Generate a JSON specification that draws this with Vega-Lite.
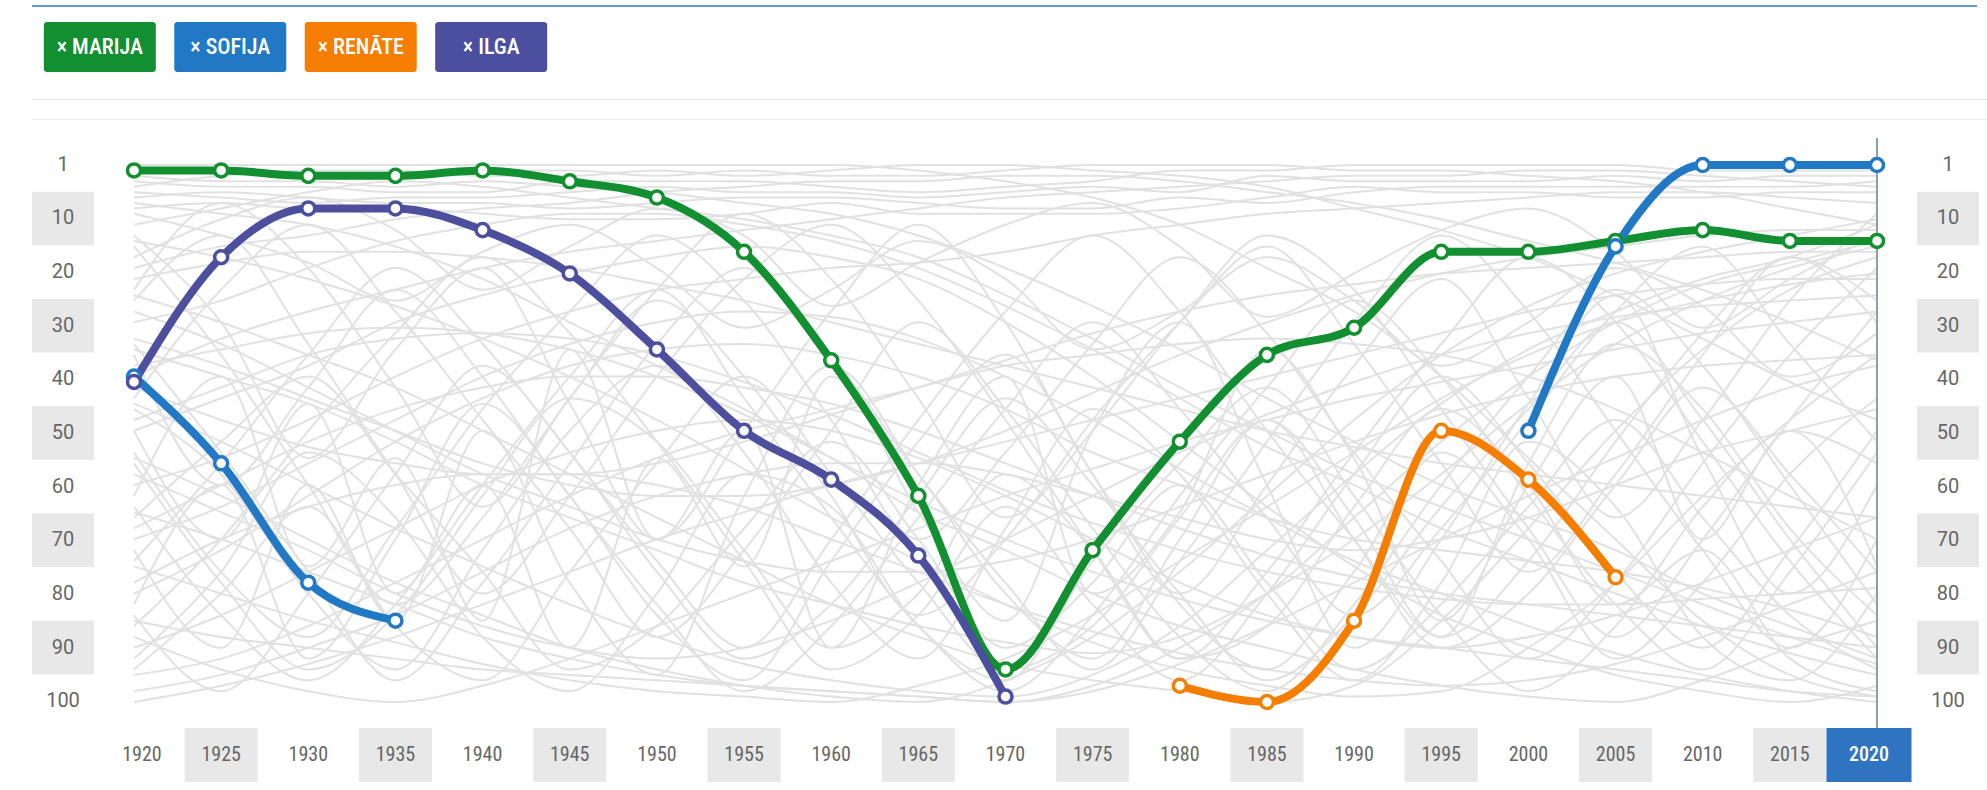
{
"$schema":"https://vega.github.io/schema/vega-lite/v6.json",
"padding":{"left":32,"top":5,"right":0,"bottom":0},
"background":"white",
"config":{"view":{"stroke":null},"font":"Roboto"},
"datasets":{
"names":[{"name":"Marija","label":"× MARIJA"},{"name":"Sofija","label":"× SOFIJA"},{"name":"Renāte","label":"× RENĀTE"},{"name":"Ilga","label":"× ILGA"}],
"ylab":[{"label":"1"},{"label":"10"},{"label":"20"},{"label":"30"},{"label":"40"},{"label":"50"},{"label":"60"},{"label":"70"},{"label":"80"},{"label":"90"},{"label":"100"}],
"years":[{"year":1920},{"year":1925},{"year":1930},{"year":1935},{"year":1940},{"year":1945},{"year":1950},{"year":1955},{"year":1960},{"year":1965},{"year":1970},{"year":1975},{"year":1980},{"year":1985},{"year":1990},{"year":1995},{"year":2000},{"year":2005},{"year":2010},{"year":2015},{"year":2020}],
"ranks":[
{"name":"Marija","year":1920,"rank":2},{"name":"Marija","year":1925,"rank":2},{"name":"Marija","year":1930,"rank":3},{"name":"Marija","year":1935,"rank":3},{"name":"Marija","year":1940,"rank":2},{"name":"Marija","year":1945,"rank":4},{"name":"Marija","year":1950,"rank":7},{"name":"Marija","year":1955,"rank":17},{"name":"Marija","year":1960,"rank":37},{"name":"Marija","year":1965,"rank":62},{"name":"Marija","year":1970,"rank":94},{"name":"Marija","year":1975,"rank":72},{"name":"Marija","year":1980,"rank":52},{"name":"Marija","year":1985,"rank":36},{"name":"Marija","year":1990,"rank":31},{"name":"Marija","year":1995,"rank":17},{"name":"Marija","year":2000,"rank":17},{"name":"Marija","year":2005,"rank":15},{"name":"Marija","year":2010,"rank":13},{"name":"Marija","year":2015,"rank":15},{"name":"Marija","year":2020,"rank":15},
{"name":"Sofija","year":1920,"rank":40},{"name":"Sofija","year":1925,"rank":56},{"name":"Sofija","year":1930,"rank":78},{"name":"Sofija","year":1935,"rank":85},{"name":"Sofija","year":1940,"rank":null},{"name":"Sofija","year":2000,"rank":50},{"name":"Sofija","year":2005,"rank":16},{"name":"Sofija","year":2010,"rank":1},{"name":"Sofija","year":2015,"rank":1},{"name":"Sofija","year":2020,"rank":1},
{"name":"Renāte","year":1980,"rank":97},{"name":"Renāte","year":1985,"rank":100},{"name":"Renāte","year":1990,"rank":85},{"name":"Renāte","year":1995,"rank":50},{"name":"Renāte","year":2000,"rank":59},{"name":"Renāte","year":2005,"rank":77},
{"name":"Ilga","year":1920,"rank":41},{"name":"Ilga","year":1925,"rank":18},{"name":"Ilga","year":1930,"rank":9},{"name":"Ilga","year":1935,"rank":9},{"name":"Ilga","year":1940,"rank":13},{"name":"Ilga","year":1945,"rank":21},{"name":"Ilga","year":1950,"rank":35},{"name":"Ilga","year":1955,"rank":50},{"name":"Ilga","year":1960,"rank":59},{"name":"Ilga","year":1965,"rank":73},{"name":"Ilga","year":1970,"rank":99}
],
"gray":[
{"n":1,"t":1920,"r":1},{"n":1,"t":1925,"r":1},{"n":1,"t":1930,"r":1},{"n":1,"t":1935,"r":1},{"n":1,"t":1940,"r":1},{"n":1,"t":1945,"r":1},{"n":1,"t":1950,"r":1},{"n":1,"t":1955,"r":1},{"n":1,"t":1960,"r":1},{"n":1,"t":1965,"r":2},{"n":1,"t":1970,"r":4},{"n":1,"t":1975,"r":7},{"n":1,"t":1980,"r":12},{"n":1,"t":1985,"r":20},{"n":1,"t":1990,"r":28},{"n":1,"t":1995,"r":40},{"n":1,"t":2000,"r":55},{"n":1,"t":2005,"r":70},{"n":1,"t":2010,"r":85},{"n":1,"t":2015,"r":95},{"n":1,"t":2020,"r":99},
{"n":2,"t":1920,"r":3},{"n":2,"t":1925,"r":4},{"n":2,"t":1930,"r":4},{"n":2,"t":1935,"r":5},{"n":2,"t":1940,"r":4},{"n":2,"t":1945,"r":5},{"n":2,"t":1950,"r":6},{"n":2,"t":1955,"r":8},{"n":2,"t":1960,"r":10},{"n":2,"t":1965,"r":14},{"n":2,"t":1970,"r":20},{"n":2,"t":1975,"r":27},{"n":2,"t":1980,"r":35},{"n":2,"t":1985,"r":44},{"n":2,"t":1990,"r":52},{"n":2,"t":1995,"r":60},{"n":2,"t":2000,"r":66},{"n":2,"t":2005,"r":72},{"n":2,"t":2010,"r":80},{"n":2,"t":2015,"r":86},{"n":2,"t":2020,"r":92},
{"n":3,"t":1920,"r":5},{"n":3,"t":1925,"r":3},{"n":3,"t":1930,"r":2},{"n":3,"t":1935,"r":2},{"n":3,"t":1940,"r":3},{"n":3,"t":1945,"r":3},{"n":3,"t":1950,"r":2},{"n":3,"t":1955,"r":3},{"n":3,"t":1960,"r":2},{"n":3,"t":1965,"r":1},{"n":3,"t":1970,"r":1},{"n":3,"t":1975,"r":2},{"n":3,"t":1980,"r":3},{"n":3,"t":1985,"r":5},{"n":3,"t":1990,"r":9},{"n":3,"t":1995,"r":13},{"n":3,"t":2000,"r":18},{"n":3,"t":2005,"r":25},{"n":3,"t":2010,"r":33},{"n":3,"t":2015,"r":41},{"n":3,"t":2020,"r":48},
{"n":4,"t":1920,"r":8},{"n":4,"t":1925,"r":10},{"n":4,"t":1930,"r":12},{"n":4,"t":1935,"r":16},{"n":4,"t":1940,"r":22},{"n":4,"t":1945,"r":30},{"n":4,"t":1950,"r":38},{"n":4,"t":1955,"r":46},{"n":4,"t":1960,"r":55},{"n":4,"t":1965,"r":65},{"n":4,"t":1970,"r":72},{"n":4,"t":1975,"r":80},{"n":4,"t":1980,"r":86},{"n":4,"t":1985,"r":90},{"n":4,"t":1990,"r":94},{"n":4,"t":1995,"r":97},{"n":4,"t":2000,"r":99},{"n":4,"t":2005,"r":100},{"n":4,"t":2010,"r":96},{"n":4,"t":2015,"r":90},{"n":4,"t":2020,"r":85},
{"n":5,"t":1920,"r":12},{"n":5,"t":1925,"r":9},{"n":5,"t":1930,"r":6},{"n":5,"t":1935,"r":4},{"n":5,"t":1940,"r":5},{"n":5,"t":1945,"r":7},{"n":5,"t":1950,"r":9},{"n":5,"t":1955,"r":11},{"n":5,"t":1960,"r":14},{"n":5,"t":1965,"r":18},{"n":5,"t":1970,"r":25},{"n":5,"t":1975,"r":33},{"n":5,"t":1980,"r":42},{"n":5,"t":1985,"r":50},{"n":5,"t":1990,"r":58},{"n":5,"t":1995,"r":64},{"n":5,"t":2000,"r":70},{"n":5,"t":2005,"r":76},{"n":5,"t":2010,"r":82},{"n":5,"t":2015,"r":88},{"n":5,"t":2020,"r":93},
{"n":6,"t":1920,"r":15},{"n":6,"t":1925,"r":18},{"n":6,"t":1930,"r":22},{"n":6,"t":1935,"r":27},{"n":6,"t":1940,"r":33},{"n":6,"t":1945,"r":40},{"n":6,"t":1950,"r":48},{"n":6,"t":1955,"r":57},{"n":6,"t":1960,"r":66},{"n":6,"t":1965,"r":74},{"n":6,"t":1970,"r":82},{"n":6,"t":1975,"r":89},{"n":6,"t":1980,"r":94},{"n":6,"t":1985,"r":97},{"n":6,"t":1990,"r":99},{"n":6,"t":1995,"r":98},{"n":6,"t":2000,"r":90},{"n":6,"t":2005,"r":78},{"n":6,"t":2010,"r":62},{"n":6,"t":2015,"r":48},{"n":6,"t":2020,"r":36},
{"n":7,"t":1920,"r":20},{"n":7,"t":1925,"r":16},{"n":7,"t":1930,"r":14},{"n":7,"t":1935,"r":11},{"n":7,"t":1940,"r":9},{"n":7,"t":1945,"r":8},{"n":7,"t":1950,"r":6},{"n":7,"t":1955,"r":5},{"n":7,"t":1960,"r":4},{"n":7,"t":1965,"r":4},{"n":7,"t":1970,"r":3},{"n":7,"t":1975,"r":3},{"n":7,"t":1980,"r":4},{"n":7,"t":1985,"r":6},{"n":7,"t":1990,"r":8},{"n":7,"t":1995,"r":11},{"n":7,"t":2000,"r":15},{"n":7,"t":2005,"r":19},{"n":7,"t":2010,"r":24},{"n":7,"t":2015,"r":30},{"n":7,"t":2020,"r":37},
{"n":8,"t":1920,"r":25},{"n":8,"t":1925,"r":30},{"n":8,"t":1930,"r":36},{"n":8,"t":1935,"r":42},{"n":8,"t":1940,"r":50},{"n":8,"t":1945,"r":58},{"n":8,"t":1950,"r":66},{"n":8,"t":1955,"r":74},{"n":8,"t":1960,"r":82},{"n":8,"t":1965,"r":88},{"n":8,"t":1970,"r":93},{"n":8,"t":1975,"r":96},{"n":8,"t":1980,"r":98},{"n":8,"t":1985,"r":100},{"n":8,"t":1990,"r":97},{"n":8,"t":1995,"r":85},{"n":8,"t":2000,"r":68},{"n":8,"t":2005,"r":50},{"n":8,"t":2010,"r":35},{"n":8,"t":2015,"r":24},{"n":8,"t":2020,"r":18},
{"n":9,"t":1920,"r":30},{"n":9,"t":1925,"r":26},{"n":9,"t":1930,"r":20},{"n":9,"t":1935,"r":15},{"n":9,"t":1940,"r":12},{"n":9,"t":1945,"r":10},{"n":9,"t":1950,"r":10},{"n":9,"t":1955,"r":12},{"n":9,"t":1960,"r":15},{"n":9,"t":1965,"r":20},{"n":9,"t":1970,"r":27},{"n":9,"t":1975,"r":35},{"n":9,"t":1980,"r":44},{"n":9,"t":1985,"r":53},{"n":9,"t":1990,"r":60},{"n":9,"t":1995,"r":68},{"n":9,"t":2000,"r":74},{"n":9,"t":2005,"r":80},{"n":9,"t":2010,"r":86},{"n":9,"t":2015,"r":91},{"n":9,"t":2020,"r":95},
{"n":10,"t":1920,"r":35},{"n":10,"t":1925,"r":40},{"n":10,"t":1930,"r":45},{"n":10,"t":1935,"r":52},{"n":10,"t":1940,"r":60},{"n":10,"t":1945,"r":66},{"n":10,"t":1950,"r":72},{"n":10,"t":1955,"r":78},{"n":10,"t":1960,"r":82},{"n":10,"t":1965,"r":86},{"n":10,"t":1970,"r":89},{"n":10,"t":1975,"r":91},{"n":10,"t":1980,"r":88},{"n":10,"t":1985,"r":80},{"n":10,"t":1990,"r":70},{"n":10,"t":1995,"r":58},{"n":10,"t":2000,"r":45},{"n":10,"t":2005,"r":34},{"n":10,"t":2010,"r":26},{"n":10,"t":2015,"r":20},{"n":10,"t":2020,"r":16},
{"n":11,"t":1920,"r":40},{"n":11,"t":1925,"r":33},{"n":11,"t":1930,"r":28},{"n":11,"t":1935,"r":24},{"n":11,"t":1940,"r":20},{"n":11,"t":1945,"r":17},{"n":11,"t":1950,"r":15},{"n":11,"t":1955,"r":13},{"n":11,"t":1960,"r":11},{"n":11,"t":1965,"r":9},{"n":11,"t":1970,"r":7},{"n":11,"t":1975,"r":6},{"n":11,"t":1980,"r":5},{"n":11,"t":1985,"r":4},{"n":11,"t":1990,"r":3},{"n":11,"t":1995,"r":3},{"n":11,"t":2000,"r":2},{"n":11,"t":2005,"r":2},{"n":11,"t":2010,"r":3},{"n":11,"t":2015,"r":4},{"n":11,"t":2020,"r":5},
{"n":12,"t":1920,"r":45},{"n":12,"t":1925,"r":52},{"n":12,"t":1930,"r":60},{"n":12,"t":1935,"r":68},{"n":12,"t":1940,"r":75},{"n":12,"t":1945,"r":82},{"n":12,"t":1950,"r":88},{"n":12,"t":1955,"r":93},{"n":12,"t":1960,"r":96},{"n":12,"t":1965,"r":98},{"n":12,"t":1970,"r":99},{"n":12,"t":1975,"r":95},{"n":12,"t":1980,"r":86},{"n":12,"t":1985,"r":72},{"n":12,"t":1990,"r":58},{"n":12,"t":1995,"r":45},{"n":12,"t":2000,"r":35},{"n":12,"t":2005,"r":28},{"n":12,"t":2010,"r":22},{"n":12,"t":2015,"r":18},{"n":12,"t":2020,"r":12},
{"n":13,"t":1920,"r":50},{"n":13,"t":1925,"r":44},{"n":13,"t":1930,"r":38},{"n":13,"t":1935,"r":30},{"n":13,"t":1940,"r":25},{"n":13,"t":1945,"r":21},{"n":13,"t":1950,"r":18},{"n":13,"t":1955,"r":16},{"n":13,"t":1960,"r":18},{"n":13,"t":1965,"r":22},{"n":13,"t":1970,"r":30},{"n":13,"t":1975,"r":40},{"n":13,"t":1980,"r":52},{"n":13,"t":1985,"r":64},{"n":13,"t":1990,"r":75},{"n":13,"t":1995,"r":84},{"n":13,"t":2000,"r":90},{"n":13,"t":2005,"r":95},{"n":13,"t":2010,"r":98},{"n":13,"t":2015,"r":100},{"n":13,"t":2020,"r":97},
{"n":14,"t":1920,"r":55},{"n":14,"t":1925,"r":62},{"n":14,"t":1930,"r":70},{"n":14,"t":1935,"r":78},{"n":14,"t":1940,"r":84},{"n":14,"t":1945,"r":90},{"n":14,"t":1950,"r":94},{"n":14,"t":1955,"r":97},{"n":14,"t":1960,"r":99},{"n":14,"t":1965,"r":100},{"n":14,"t":1970,"r":96},{"n":14,"t":1975,"r":88},{"n":14,"t":1980,"r":76},{"n":14,"t":1985,"r":62},{"n":14,"t":1990,"r":48},{"n":14,"t":1995,"r":36},{"n":14,"t":2000,"r":27},{"n":14,"t":2005,"r":21},{"n":14,"t":2010,"r":17},{"n":14,"t":2015,"r":14},{"n":14,"t":2020,"r":11},
{"n":15,"t":1920,"r":60},{"n":15,"t":1925,"r":55},{"n":15,"t":1930,"r":48},{"n":15,"t":1935,"r":40},{"n":15,"t":1940,"r":33},{"n":15,"t":1945,"r":28},{"n":15,"t":1950,"r":24},{"n":15,"t":1955,"r":22},{"n":15,"t":1960,"r":20},{"n":15,"t":1965,"r":19},{"n":15,"t":1970,"r":17},{"n":15,"t":1975,"r":14},{"n":15,"t":1980,"r":12},{"n":15,"t":1985,"r":10},{"n":15,"t":1990,"r":9},{"n":15,"t":1995,"r":8},{"n":15,"t":2000,"r":7},{"n":15,"t":2005,"r":6},{"n":15,"t":2010,"r":6},{"n":15,"t":2015,"r":7},{"n":15,"t":2020,"r":8},
{"n":16,"t":1920,"r":65},{"n":16,"t":1925,"r":70},{"n":16,"t":1930,"r":76},{"n":16,"t":1935,"r":82},{"n":16,"t":1940,"r":88},{"n":16,"t":1945,"r":92},{"n":16,"t":1950,"r":95},{"n":16,"t":1955,"r":97},{"n":16,"t":1960,"r":98},{"n":16,"t":1965,"r":99},{"n":16,"t":1970,"r":100},{"n":16,"t":1975,"r":97},{"n":16,"t":1980,"r":90},{"n":16,"t":1985,"r":80},{"n":16,"t":1990,"r":66},{"n":16,"t":1995,"r":52},{"n":16,"t":2000,"r":40},{"n":16,"t":2005,"r":30},{"n":16,"t":2010,"r":23},{"n":16,"t":2015,"r":19},{"n":16,"t":2020,"r":15},
{"n":17,"t":1920,"r":70},{"n":17,"t":1925,"r":64},{"n":17,"t":1930,"r":56},{"n":17,"t":1935,"r":48},{"n":17,"t":1940,"r":40},{"n":17,"t":1945,"r":34},{"n":17,"t":1950,"r":30},{"n":17,"t":1955,"r":28},{"n":17,"t":1960,"r":29},{"n":17,"t":1965,"r":33},{"n":17,"t":1970,"r":40},{"n":17,"t":1975,"r":48},{"n":17,"t":1980,"r":57},{"n":17,"t":1985,"r":66},{"n":17,"t":1990,"r":74},{"n":17,"t":1995,"r":80},{"n":17,"t":2000,"r":86},{"n":17,"t":2005,"r":91},{"n":17,"t":2010,"r":95},{"n":17,"t":2015,"r":98},{"n":17,"t":2020,"r":100},
{"n":18,"t":1920,"r":75},{"n":18,"t":1925,"r":80},{"n":18,"t":1930,"r":85},{"n":18,"t":1935,"r":89},{"n":18,"t":1940,"r":93},{"n":18,"t":1945,"r":96},{"n":18,"t":1950,"r":98},{"n":18,"t":1955,"r":99},{"n":18,"t":1960,"r":100},{"n":18,"t":1965,"r":97},{"n":18,"t":1970,"r":92},{"n":18,"t":1975,"r":84},{"n":18,"t":1980,"r":74},{"n":18,"t":1985,"r":64},{"n":18,"t":1990,"r":54},{"n":18,"t":1995,"r":44},{"n":18,"t":2000,"r":36},{"n":18,"t":2005,"r":30},{"n":18,"t":2010,"r":26},{"n":18,"t":2015,"r":23},{"n":18,"t":2020,"r":21},
{"n":19,"t":1920,"r":80},{"n":19,"t":1925,"r":72},{"n":19,"t":1930,"r":62},{"n":19,"t":1935,"r":52},{"n":19,"t":1940,"r":44},{"n":19,"t":1945,"r":38},{"n":19,"t":1950,"r":35},{"n":19,"t":1955,"r":34},{"n":19,"t":1960,"r":36},{"n":19,"t":1965,"r":40},{"n":19,"t":1970,"r":46},{"n":19,"t":1975,"r":54},{"n":19,"t":1980,"r":60},{"n":19,"t":1985,"r":66},{"n":19,"t":1990,"r":70},{"n":19,"t":1995,"r":72},{"n":19,"t":2000,"r":74},{"n":19,"t":2005,"r":76},{"n":19,"t":2010,"r":79},{"n":19,"t":2015,"r":83},{"n":19,"t":2020,"r":88},
{"n":20,"t":1920,"r":85},{"n":20,"t":1925,"r":88},{"n":20,"t":1930,"r":90},{"n":20,"t":1935,"r":92},{"n":20,"t":1940,"r":94},{"n":20,"t":1945,"r":95},{"n":20,"t":1950,"r":96},{"n":20,"t":1955,"r":97},{"n":20,"t":1960,"r":98},{"n":20,"t":1965,"r":99},{"n":20,"t":1970,"r":100},{"n":20,"t":1975,"r":98},{"n":20,"t":1980,"r":93},{"n":20,"t":1985,"r":86},{"n":20,"t":1990,"r":78},{"n":20,"t":1995,"r":70},{"n":20,"t":2000,"r":62},{"n":20,"t":2005,"r":55},{"n":20,"t":2010,"r":48},{"n":20,"t":2015,"r":42},{"n":20,"t":2020,"r":38},
{"n":21,"t":1920,"r":90},{"n":21,"t":1925,"r":84},{"n":21,"t":1930,"r":76},{"n":21,"t":1935,"r":68},{"n":21,"t":1940,"r":60},{"n":21,"t":1945,"r":54},{"n":21,"t":1950,"r":50},{"n":21,"t":1955,"r":48},{"n":21,"t":1960,"r":50},{"n":21,"t":1965,"r":55},{"n":21,"t":1970,"r":62},{"n":21,"t":1975,"r":70},{"n":21,"t":1980,"r":78},{"n":21,"t":1985,"r":84},{"n":21,"t":1990,"r":88},{"n":21,"t":1995,"r":90},{"n":21,"t":2000,"r":88},{"n":21,"t":2005,"r":84},{"n":21,"t":2010,"r":78},{"n":21,"t":2015,"r":72},{"n":21,"t":2020,"r":66},
{"n":22,"t":1920,"r":95},{"n":22,"t":1925,"r":92},{"n":22,"t":1930,"r":86},{"n":22,"t":1935,"r":78},{"n":22,"t":1940,"r":70},{"n":22,"t":1945,"r":62},{"n":22,"t":1950,"r":55},{"n":22,"t":1955,"r":50},{"n":22,"t":1960,"r":46},{"n":22,"t":1965,"r":42},{"n":22,"t":1970,"r":38},{"n":22,"t":1975,"r":36},{"n":22,"t":1980,"r":34},{"n":22,"t":1985,"r":33},{"n":22,"t":1990,"r":34},{"n":22,"t":1995,"r":36},{"n":22,"t":2000,"r":40},{"n":22,"t":2005,"r":46},{"n":22,"t":2010,"r":54},{"n":22,"t":2015,"r":62},{"n":22,"t":2020,"r":70},
{"n":23,"t":1920,"r":98},{"n":23,"t":1925,"r":95},{"n":23,"t":1930,"r":90},{"n":23,"t":1935,"r":84},{"n":23,"t":1940,"r":76},{"n":23,"t":1945,"r":68},{"n":23,"t":1950,"r":62},{"n":23,"t":1955,"r":58},{"n":23,"t":1960,"r":56},{"n":23,"t":1965,"r":56},{"n":23,"t":1970,"r":58},{"n":23,"t":1975,"r":62},{"n":23,"t":1980,"r":66},{"n":23,"t":1985,"r":70},{"n":23,"t":1990,"r":72},{"n":23,"t":1995,"r":70},{"n":23,"t":2000,"r":66},{"n":23,"t":2005,"r":60},{"n":23,"t":2010,"r":54},{"n":23,"t":2015,"r":50},{"n":23,"t":2020,"r":46},
{"n":24,"t":1920,"r":100},{"n":24,"t":1925,"r":97},{"n":24,"t":1930,"r":93},{"n":24,"t":1935,"r":88},{"n":24,"t":1940,"r":82},{"n":24,"t":1945,"r":76},{"n":24,"t":1950,"r":70},{"n":24,"t":1955,"r":65},{"n":24,"t":1960,"r":60},{"n":24,"t":1965,"r":56},{"n":24,"t":1970,"r":52},{"n":24,"t":1975,"r":48},{"n":24,"t":1980,"r":44},{"n":24,"t":1985,"r":40},{"n":24,"t":1990,"r":36},{"n":24,"t":1995,"r":32},{"n":24,"t":2000,"r":28},{"n":24,"t":2005,"r":25},{"n":24,"t":2010,"r":23},{"n":24,"t":2015,"r":22},{"n":24,"t":2020,"r":22},
{"n":25,"t":1920,"r":10},{"n":25,"t":1925,"r":14},{"n":25,"t":1930,"r":19},{"n":25,"t":1935,"r":26},{"n":25,"t":1940,"r":17},{"n":25,"t":1945,"r":12},{"n":25,"t":1950,"r":20},{"n":25,"t":1955,"r":31},{"n":25,"t":1960,"r":24},{"n":25,"t":1965,"r":15},{"n":25,"t":1970,"r":22},{"n":25,"t":1975,"r":35},{"n":25,"t":1980,"r":28},{"n":25,"t":1985,"r":18},{"n":25,"t":1990,"r":26},{"n":25,"t":1995,"r":38},{"n":25,"t":2000,"r":30},{"n":25,"t":2005,"r":20},{"n":25,"t":2010,"r":27},{"n":25,"t":2015,"r":40},{"n":25,"t":2020,"r":32},
{"n":26,"t":1920,"r":18},{"n":26,"t":1925,"r":11},{"n":26,"t":1930,"r":7},{"n":26,"t":1935,"r":13},{"n":26,"t":1940,"r":24},{"n":26,"t":1945,"r":16},{"n":26,"t":1950,"r":9},{"n":26,"t":1955,"r":14},{"n":26,"t":1960,"r":27},{"n":26,"t":1965,"r":19},{"n":26,"t":1970,"r":12},{"n":26,"t":1975,"r":8},{"n":26,"t":1980,"r":16},{"n":26,"t":1985,"r":29},{"n":26,"t":1990,"r":21},{"n":26,"t":1995,"r":13},{"n":26,"t":2000,"r":9},{"n":26,"t":2005,"r":17},{"n":26,"t":2010,"r":31},{"n":26,"t":2015,"r":22},{"n":26,"t":2020,"r":14},
{"n":27,"t":1920,"r":22},{"n":27,"t":1925,"r":19},{"n":27,"t":1930,"r":17},{"n":27,"t":1935,"r":17},{"n":27,"t":1940,"r":18},{"n":27,"t":1945,"r":20},{"n":27,"t":1950,"r":23},{"n":27,"t":1955,"r":26},{"n":27,"t":1960,"r":30},{"n":27,"t":1965,"r":34},{"n":27,"t":1970,"r":38},{"n":27,"t":1975,"r":42},{"n":27,"t":1980,"r":46},{"n":27,"t":1985,"r":50},{"n":27,"t":1990,"r":53},{"n":27,"t":1995,"r":56},{"n":27,"t":2000,"r":58},{"n":27,"t":2005,"r":60},{"n":27,"t":2010,"r":62},{"n":27,"t":2015,"r":64},{"n":27,"t":2020,"r":66},
{"n":28,"t":1920,"r":28},{"n":28,"t":1925,"r":34},{"n":28,"t":1930,"r":42},{"n":28,"t":1935,"r":50},{"n":28,"t":1940,"r":58},{"n":28,"t":1945,"r":64},{"n":28,"t":1950,"r":70},{"n":28,"t":1955,"r":74},{"n":28,"t":1960,"r":76},{"n":28,"t":1965,"r":76},{"n":28,"t":1970,"r":74},{"n":28,"t":1975,"r":70},{"n":28,"t":1980,"r":64},{"n":28,"t":1985,"r":58},{"n":28,"t":1990,"r":52},{"n":28,"t":1995,"r":47},{"n":28,"t":2000,"r":43},{"n":28,"t":2005,"r":40},{"n":28,"t":2010,"r":38},{"n":28,"t":2015,"r":37},{"n":28,"t":2020,"r":36},
{"n":29,"t":1920,"r":33},{"n":29,"t":1925,"r":38},{"n":29,"t":1930,"r":44},{"n":29,"t":1935,"r":50},{"n":29,"t":1940,"r":56},{"n":29,"t":1945,"r":60},{"n":29,"t":1950,"r":62},{"n":29,"t":1955,"r":62},{"n":29,"t":1960,"r":60},{"n":29,"t":1965,"r":56},{"n":29,"t":1970,"r":50},{"n":29,"t":1975,"r":43},{"n":29,"t":1980,"r":36},{"n":29,"t":1985,"r":30},{"n":29,"t":1990,"r":25},{"n":29,"t":1995,"r":21},{"n":29,"t":2000,"r":18},{"n":29,"t":2005,"r":16},{"n":29,"t":2010,"r":14},{"n":29,"t":2015,"r":13},{"n":29,"t":2020,"r":13},
{"n":30,"t":1920,"r":38},{"n":30,"t":1925,"r":35},{"n":30,"t":1930,"r":32},{"n":30,"t":1935,"r":31},{"n":30,"t":1940,"r":32},{"n":30,"t":1945,"r":35},{"n":30,"t":1950,"r":40},{"n":30,"t":1955,"r":47},{"n":30,"t":1960,"r":55},{"n":30,"t":1965,"r":63},{"n":30,"t":1970,"r":70},{"n":30,"t":1975,"r":76},{"n":30,"t":1980,"r":81},{"n":30,"t":1985,"r":85},{"n":30,"t":1990,"r":88},{"n":30,"t":1995,"r":90},{"n":30,"t":2000,"r":92},{"n":30,"t":2005,"r":94},{"n":30,"t":2010,"r":96},{"n":30,"t":2015,"r":98},{"n":30,"t":2020,"r":99},
{"n":31,"t":1920,"r":42},{"n":31,"t":1925,"r":48},{"n":31,"t":1930,"r":53},{"n":31,"t":1935,"r":56},{"n":31,"t":1940,"r":58},{"n":31,"t":1945,"r":58},{"n":31,"t":1950,"r":56},{"n":31,"t":1955,"r":52},{"n":31,"t":1960,"r":47},{"n":31,"t":1965,"r":42},{"n":31,"t":1970,"r":37},{"n":31,"t":1975,"r":32},{"n":31,"t":1980,"r":28},{"n":31,"t":1985,"r":25},{"n":31,"t":1990,"r":23},{"n":31,"t":1995,"r":21},{"n":31,"t":2000,"r":20},{"n":31,"t":2005,"r":19},{"n":31,"t":2010,"r":18},{"n":31,"t":2015,"r":17},{"n":31,"t":2020,"r":17},
{"n":32,"t":1920,"r":48},{"n":32,"t":1925,"r":42},{"n":32,"t":1930,"r":36},{"n":32,"t":1935,"r":33},{"n":32,"t":1940,"r":32},{"n":32,"t":1945,"r":33},{"n":32,"t":1950,"r":36},{"n":32,"t":1955,"r":41},{"n":32,"t":1960,"r":47},{"n":32,"t":1965,"r":54},{"n":32,"t":1970,"r":61},{"n":32,"t":1975,"r":67},{"n":32,"t":1980,"r":72},{"n":32,"t":1985,"r":76},{"n":32,"t":1990,"r":79},{"n":32,"t":1995,"r":81},{"n":32,"t":2000,"r":82},{"n":32,"t":2005,"r":82},{"n":32,"t":2010,"r":81},{"n":32,"t":2015,"r":80},{"n":32,"t":2020,"r":79},
{"n":33,"t":1920,"r":58},{"n":33,"t":1925,"r":65},{"n":33,"t":1930,"r":72},{"n":33,"t":1935,"r":80},{"n":33,"t":1940,"r":86},{"n":33,"t":1945,"r":90},{"n":33,"t":1950,"r":92},{"n":33,"t":1955,"r":90},{"n":33,"t":1960,"r":85},{"n":33,"t":1965,"r":78},{"n":33,"t":1970,"r":70},{"n":33,"t":1975,"r":62},{"n":33,"t":1980,"r":54},{"n":33,"t":1985,"r":47},{"n":33,"t":1990,"r":41},{"n":33,"t":1995,"r":36},{"n":33,"t":2000,"r":32},{"n":33,"t":2005,"r":29},{"n":33,"t":2010,"r":27},{"n":33,"t":2015,"r":26},{"n":33,"t":2020,"r":25},
{"n":34,"t":1920,"r":68},{"n":34,"t":1925,"r":60},{"n":34,"t":1930,"r":52},{"n":34,"t":1935,"r":46},{"n":34,"t":1940,"r":42},{"n":34,"t":1945,"r":40},{"n":34,"t":1950,"r":40},{"n":34,"t":1955,"r":42},{"n":34,"t":1960,"r":45},{"n":34,"t":1965,"r":50},{"n":34,"t":1970,"r":56},{"n":34,"t":1975,"r":62},{"n":34,"t":1980,"r":68},{"n":34,"t":1985,"r":73},{"n":34,"t":1990,"r":77},{"n":34,"t":1995,"r":80},{"n":34,"t":2000,"r":82},{"n":34,"t":2005,"r":84},{"n":34,"t":2010,"r":86},{"n":34,"t":2015,"r":88},{"n":34,"t":2020,"r":90},
{"n":35,"t":1920,"r":78},{"n":35,"t":1925,"r":70},{"n":35,"t":1930,"r":64},{"n":35,"t":1935,"r":60},{"n":35,"t":1940,"r":58},{"n":35,"t":1945,"r":58},{"n":35,"t":1950,"r":60},{"n":35,"t":1955,"r":64},{"n":35,"t":1960,"r":70},{"n":35,"t":1965,"r":76},{"n":35,"t":1970,"r":82},{"n":35,"t":1975,"r":87},{"n":35,"t":1980,"r":91},{"n":35,"t":1985,"r":94},{"n":35,"t":1990,"r":96},{"n":35,"t":1995,"r":97},{"n":35,"t":2000,"r":96},{"n":35,"t":2005,"r":93},{"n":35,"t":2010,"r":88},{"n":35,"t":2015,"r":82},{"n":35,"t":2020,"r":76},
{"n":36,"t":1920,"r":88},{"n":36,"t":1925,"r":94},{"n":36,"t":1930,"r":98},{"n":36,"t":1935,"r":100},{"n":36,"t":1940,"r":97},{"n":36,"t":1945,"r":92},{"n":36,"t":1950,"r":86},{"n":36,"t":1955,"r":80},{"n":36,"t":1960,"r":74},{"n":36,"t":1965,"r":68},{"n":36,"t":1970,"r":62},{"n":36,"t":1975,"r":57},{"n":36,"t":1980,"r":52},{"n":36,"t":1985,"r":48},{"n":36,"t":1990,"r":44},{"n":36,"t":1995,"r":41},{"n":36,"t":2000,"r":38},{"n":36,"t":2005,"r":35},{"n":36,"t":2010,"r":32},{"n":36,"t":2015,"r":30},{"n":36,"t":2020,"r":28},
{"n":37,"t":1920,"r":50},{"n":37,"t":1925,"r":70},{"n":37,"t":1930,"r":45},{"n":37,"t":1935,"r":80},{"n":37,"t":1940,"r":60},{"n":37,"t":1945,"r":90},{"n":37,"t":1950,"r":55},{"n":37,"t":1955,"r":75},{"n":37,"t":1960,"r":40},{"n":37,"t":1965,"r":65},{"n":37,"t":1970,"r":85},{"n":37,"t":1975,"r":50},{"n":37,"t":1980,"r":30},{"n":37,"t":1985,"r":60},{"n":37,"t":1990,"r":90},{"n":37,"t":1995,"r":70},{"n":37,"t":2000,"r":45},{"n":37,"t":2005,"r":25},{"n":37,"t":2010,"r":55},{"n":37,"t":2015,"r":80},{"n":37,"t":2020,"r":60},
{"n":38,"t":1920,"r":62},{"n":38,"t":1925,"r":40},{"n":38,"t":1930,"r":75},{"n":38,"t":1935,"r":55},{"n":38,"t":1940,"r":85},{"n":38,"t":1945,"r":35},{"n":38,"t":1950,"r":70},{"n":38,"t":1955,"r":50},{"n":38,"t":1960,"r":90},{"n":38,"t":1965,"r":60},{"n":38,"t":1970,"r":40},{"n":38,"t":1975,"r":80},{"n":38,"t":1980,"r":65},{"n":38,"t":1985,"r":35},{"n":38,"t":1990,"r":55},{"n":38,"t":1995,"r":85},{"n":38,"t":2000,"r":60},{"n":38,"t":2005,"r":40},{"n":38,"t":2010,"r":70},{"n":38,"t":2015,"r":50},{"n":38,"t":2020,"r":75},
{"n":39,"t":1920,"r":72},{"n":39,"t":1925,"r":90},{"n":39,"t":1930,"r":60},{"n":39,"t":1935,"r":85},{"n":39,"t":1940,"r":50},{"n":39,"t":1945,"r":78},{"n":39,"t":1950,"r":95},{"n":39,"t":1955,"r":62},{"n":39,"t":1960,"r":38},{"n":39,"t":1965,"r":58},{"n":39,"t":1970,"r":80},{"n":39,"t":1975,"r":92},{"n":39,"t":1980,"r":70},{"n":39,"t":1985,"r":48},{"n":39,"t":1990,"r":66},{"n":39,"t":1995,"r":88},{"n":39,"t":2000,"r":56},{"n":39,"t":2005,"r":34},{"n":39,"t":2010,"r":46},{"n":39,"t":2015,"r":68},{"n":39,"t":2020,"r":84},
{"n":40,"t":1920,"r":82},{"n":40,"t":1925,"r":60},{"n":40,"t":1930,"r":92},{"n":40,"t":1935,"r":70},{"n":40,"t":1940,"r":45},{"n":40,"t":1945,"r":62},{"n":40,"t":1950,"r":84},{"n":40,"t":1955,"r":96},{"n":40,"t":1960,"r":74},{"n":40,"t":1965,"r":52},{"n":40,"t":1970,"r":36},{"n":40,"t":1975,"r":58},{"n":40,"t":1980,"r":82},{"n":40,"t":1985,"r":94},{"n":40,"t":1990,"r":76},{"n":40,"t":1995,"r":54},{"n":40,"t":2000,"r":70},{"n":40,"t":2005,"r":92},{"n":40,"t":2010,"r":78},{"n":40,"t":2015,"r":58},{"n":40,"t":2020,"r":44},
{"n":41,"t":1920,"r":92},{"n":41,"t":1925,"r":76},{"n":41,"t":1930,"r":54},{"n":41,"t":1935,"r":66},{"n":41,"t":1940,"r":88},{"n":41,"t":1945,"r":98},{"n":41,"t":1950,"r":80},{"n":41,"t":1955,"r":58},{"n":41,"t":1960,"r":64},{"n":41,"t":1965,"r":86},{"n":41,"t":1970,"r":96},{"n":41,"t":1975,"r":74},{"n":41,"t":1980,"r":56},{"n":41,"t":1985,"r":42},{"n":41,"t":1990,"r":62},{"n":41,"t":1995,"r":84},{"n":41,"t":2000,"r":98},{"n":41,"t":2005,"r":86},{"n":41,"t":2010,"r":64},{"n":41,"t":2015,"r":50},{"n":41,"t":2020,"r":56},
{"n":42,"t":1920,"r":46},{"n":42,"t":1925,"r":58},{"n":42,"t":1930,"r":80},{"n":42,"t":1935,"r":94},{"n":42,"t":1940,"r":72},{"n":42,"t":1945,"r":50},{"n":42,"t":1950,"r":38},{"n":42,"t":1955,"r":54},{"n":42,"t":1960,"r":78},{"n":42,"t":1965,"r":92},{"n":42,"t":1970,"r":68},{"n":42,"t":1975,"r":46},{"n":42,"t":1980,"r":58},{"n":42,"t":1985,"r":80},{"n":42,"t":1990,"r":96},{"n":42,"t":1995,"r":78},{"n":42,"t":2000,"r":52},{"n":42,"t":2005,"r":64},{"n":42,"t":2010,"r":88},{"n":42,"t":2015,"r":96},{"n":42,"t":2020,"r":80},
{"n":43,"t":1920,"r":56},{"n":43,"t":1925,"r":78},{"n":43,"t":1930,"r":94},{"n":43,"t":1935,"r":84},{"n":43,"t":1940,"r":62},{"n":43,"t":1945,"r":44},{"n":43,"t":1950,"r":52},{"n":43,"t":1955,"r":72},{"n":43,"t":1960,"r":90},{"n":43,"t":1965,"r":80},{"n":43,"t":1970,"r":58},{"n":43,"t":1975,"r":72},{"n":43,"t":1980,"r":92},{"n":43,"t":1985,"r":86},{"n":43,"t":1990,"r":64},{"n":43,"t":1995,"r":46},{"n":43,"t":2000,"r":60},{"n":43,"t":2005,"r":82},{"n":43,"t":2010,"r":72},{"n":43,"t":2015,"r":92},{"n":43,"t":2020,"r":98},
{"n":44,"t":1920,"r":66},{"n":44,"t":1925,"r":52},{"n":44,"t":1930,"r":40},{"n":44,"t":1935,"r":58},{"n":44,"t":1940,"r":76},{"n":44,"t":1945,"r":94},{"n":44,"t":1950,"r":86},{"n":44,"t":1955,"r":68},{"n":44,"t":1960,"r":52},{"n":44,"t":1965,"r":70},{"n":44,"t":1970,"r":90},{"n":44,"t":1975,"r":78},{"n":44,"t":1980,"r":60},{"n":44,"t":1985,"r":78},{"n":44,"t":1990,"r":94},{"n":44,"t":1995,"r":82},{"n":44,"t":2000,"r":64},{"n":44,"t":2005,"r":48},{"n":44,"t":2010,"r":66},{"n":44,"t":2015,"r":84},{"n":44,"t":2020,"r":94},
{"n":45,"t":1920,"r":2},{"n":45,"t":1925,"r":2},{"n":45,"t":1930,"r":3},{"n":45,"t":1935,"r":3},{"n":45,"t":1940,"r":2},{"n":45,"t":1945,"r":2},{"n":45,"t":1950,"r":3},{"n":45,"t":1955,"r":2},{"n":45,"t":1960,"r":3},{"n":45,"t":1965,"r":3},{"n":45,"t":1970,"r":2},{"n":45,"t":1975,"r":1},{"n":45,"t":1980,"r":1},{"n":45,"t":1985,"r":1},{"n":45,"t":1990,"r":2},{"n":45,"t":1995,"r":2},{"n":45,"t":2000,"r":3},{"n":45,"t":2005,"r":4},{"n":45,"t":2010,"r":6},{"n":45,"t":2015,"r":9},{"n":45,"t":2020,"r":12},
{"n":46,"t":1920,"r":4},{"n":46,"t":1925,"r":5},{"n":46,"t":1930,"r":5},{"n":46,"t":1935,"r":6},{"n":46,"t":1940,"r":6},{"n":46,"t":1945,"r":4},{"n":46,"t":1950,"r":4},{"n":46,"t":1955,"r":4},{"n":46,"t":1960,"r":5},{"n":46,"t":1965,"r":6},{"n":46,"t":1970,"r":5},{"n":46,"t":1975,"r":4},{"n":46,"t":1980,"r":2},{"n":46,"t":1985,"r":2},{"n":46,"t":1990,"r":1},{"n":46,"t":1995,"r":1},{"n":46,"t":2000,"r":1},{"n":46,"t":2005,"r":1},{"n":46,"t":2010,"r":2},{"n":46,"t":2015,"r":2},{"n":46,"t":2020,"r":2},
{"n":47,"t":1920,"r":6},{"n":47,"t":1925,"r":7},{"n":47,"t":1930,"r":8},{"n":47,"t":1935,"r":7},{"n":47,"t":1940,"r":7},{"n":47,"t":1945,"r":6},{"n":47,"t":1950,"r":5},{"n":47,"t":1955,"r":6},{"n":47,"t":1960,"r":6},{"n":47,"t":1965,"r":7},{"n":47,"t":1970,"r":6},{"n":47,"t":1975,"r":5},{"n":47,"t":1980,"r":6},{"n":47,"t":1985,"r":3},{"n":47,"t":1990,"r":4},{"n":47,"t":1995,"r":4},{"n":47,"t":2000,"r":4},{"n":47,"t":2005,"r":3},{"n":47,"t":2010,"r":4},{"n":47,"t":2015,"r":3},{"n":47,"t":2020,"r":3},
{"n":48,"t":1920,"r":7},{"n":48,"t":1925,"r":6},{"n":48,"t":1930,"r":7},{"n":48,"t":1935,"r":8},{"n":48,"t":1940,"r":8},{"n":48,"t":1945,"r":9},{"n":48,"t":1950,"r":8},{"n":48,"t":1955,"r":7},{"n":48,"t":1960,"r":7},{"n":48,"t":1965,"r":8},{"n":48,"t":1970,"r":9},{"n":48,"t":1975,"r":9},{"n":48,"t":1980,"r":7},{"n":48,"t":1985,"r":8},{"n":48,"t":1990,"r":6},{"n":48,"t":1995,"r":5},{"n":48,"t":2000,"r":5},{"n":48,"t":2005,"r":5},{"n":48,"t":2010,"r":5},{"n":48,"t":2015,"r":5},{"n":48,"t":2020,"r":4},
{"n":49,"t":1920,"r":9},{"n":49,"t":1925,"r":8},{"n":49,"t":1930,"r":9},{"n":49,"t":1935,"r":9},{"n":49,"t":1940,"r":10},{"n":49,"t":1945,"r":11},{"n":49,"t":1950,"r":11},{"n":49,"t":1955,"r":10},{"n":49,"t":1960,"r":8},{"n":49,"t":1965,"r":10},{"n":49,"t":1970,"r":10},{"n":49,"t":1975,"r":10},{"n":49,"t":1980,"r":9},{"n":49,"t":1985,"r":7},{"n":49,"t":1990,"r":5},{"n":49,"t":1995,"r":6},{"n":49,"t":2000,"r":6},{"n":49,"t":2005,"r":7},{"n":49,"t":2010,"r":7},{"n":49,"t":2015,"r":6},{"n":49,"t":2020,"r":6},
{"n":50,"t":1920,"r":14},{"n":50,"t":1925,"r":30},{"n":50,"t":1930,"r":55},{"n":50,"t":1935,"r":35},{"n":50,"t":1940,"r":20},{"n":50,"t":1945,"r":45},{"n":50,"t":1950,"r":70},{"n":50,"t":1955,"r":50},{"n":50,"t":1960,"r":28},{"n":50,"t":1965,"r":12},{"n":50,"t":1970,"r":30},{"n":50,"t":1975,"r":58},{"n":50,"t":1980,"r":80},{"n":50,"t":1985,"r":60},{"n":50,"t":1990,"r":38},{"n":50,"t":1995,"r":22},{"n":50,"t":2000,"r":44},{"n":50,"t":2005,"r":66},{"n":50,"t":2010,"r":48},{"n":50,"t":2015,"r":26},{"n":50,"t":2020,"r":10},
{"n":51,"t":1920,"r":24},{"n":51,"t":1925,"r":8},{"n":51,"t":1930,"r":20},{"n":51,"t":1935,"r":42},{"n":51,"t":1940,"r":64},{"n":51,"t":1945,"r":44},{"n":51,"t":1950,"r":26},{"n":51,"t":1955,"r":40},{"n":51,"t":1960,"r":62},{"n":51,"t":1965,"r":84},{"n":51,"t":1970,"r":70},{"n":51,"t":1975,"r":48},{"n":51,"t":1980,"r":30},{"n":51,"t":1985,"r":16},{"n":51,"t":1990,"r":34},{"n":51,"t":1995,"r":56},{"n":51,"t":2000,"r":76},{"n":51,"t":2005,"r":58},{"n":51,"t":2010,"r":36},{"n":51,"t":2015,"r":18},{"n":51,"t":2020,"r":30},
{"n":52,"t":1920,"r":34},{"n":52,"t":1925,"r":54},{"n":52,"t":1930,"r":76},{"n":52,"t":1935,"r":96},{"n":52,"t":1940,"r":78},{"n":52,"t":1945,"r":56},{"n":52,"t":1950,"r":34},{"n":52,"t":1955,"r":20},{"n":52,"t":1960,"r":36},{"n":52,"t":1965,"r":58},{"n":52,"t":1970,"r":78},{"n":52,"t":1975,"r":94},{"n":52,"t":1980,"r":74},{"n":52,"t":1985,"r":52},{"n":52,"t":1990,"r":30},{"n":52,"t":1995,"r":14},{"n":52,"t":2000,"r":28},{"n":52,"t":2005,"r":50},{"n":52,"t":2010,"r":72},{"n":52,"t":2015,"r":90},{"n":52,"t":2020,"r":70},
{"n":53,"t":1920,"r":44},{"n":53,"t":1925,"r":24},{"n":53,"t":1930,"r":12},{"n":53,"t":1935,"r":28},{"n":53,"t":1940,"r":48},{"n":53,"t":1945,"r":68},{"n":53,"t":1950,"r":88},{"n":53,"t":1955,"r":72},{"n":53,"t":1960,"r":50},{"n":53,"t":1965,"r":30},{"n":53,"t":1970,"r":46},{"n":53,"t":1975,"r":68},{"n":53,"t":1980,"r":88},{"n":53,"t":1985,"r":98},{"n":53,"t":1990,"r":82},{"n":53,"t":1995,"r":60},{"n":53,"t":2000,"r":40},{"n":53,"t":2005,"r":24},{"n":53,"t":2010,"r":38},{"n":53,"t":2015,"r":60},{"n":53,"t":2020,"r":82},
{"n":54,"t":1920,"r":54},{"n":54,"t":1925,"r":76},{"n":54,"t":1930,"r":88},{"n":54,"t":1935,"r":68},{"n":54,"t":1940,"r":46},{"n":54,"t":1945,"r":28},{"n":54,"t":1950,"r":14},{"n":54,"t":1955,"r":26},{"n":54,"t":1960,"r":48},{"n":54,"t":1965,"r":70},{"n":54,"t":1970,"r":54},{"n":54,"t":1975,"r":34},{"n":54,"t":1980,"r":18},{"n":54,"t":1985,"r":32},{"n":54,"t":1990,"r":54},{"n":54,"t":1995,"r":74},{"n":54,"t":2000,"r":92},{"n":54,"t":2005,"r":78},{"n":54,"t":2010,"r":56},{"n":54,"t":2015,"r":36},{"n":54,"t":2020,"r":20},
{"n":55,"t":1920,"r":64},{"n":55,"t":1925,"r":84},{"n":55,"t":1930,"r":96},{"n":55,"t":1935,"r":82},{"n":55,"t":1940,"r":60},{"n":55,"t":1945,"r":40},{"n":55,"t":1950,"r":24},{"n":55,"t":1955,"r":44},{"n":55,"t":1960,"r":66},{"n":55,"t":1965,"r":86},{"n":55,"t":1970,"r":98},{"n":55,"t":1975,"r":84},{"n":55,"t":1980,"r":62},{"n":55,"t":1985,"r":42},{"n":55,"t":1990,"r":26},{"n":55,"t":1995,"r":40},{"n":55,"t":2000,"r":62},{"n":55,"t":2005,"r":82},{"n":55,"t":2010,"r":94},{"n":55,"t":2015,"r":76},{"n":55,"t":2020,"r":54},
{"n":56,"t":1920,"r":74},{"n":56,"t":1925,"r":56},{"n":56,"t":1930,"r":36},{"n":56,"t":1935,"r":20},{"n":56,"t":1940,"r":34},{"n":56,"t":1945,"r":54},{"n":56,"t":1950,"r":74},{"n":56,"t":1955,"r":90},{"n":56,"t":1960,"r":70},{"n":56,"t":1965,"r":48},{"n":56,"t":1970,"r":28},{"n":56,"t":1975,"r":14},{"n":56,"t":1980,"r":28},{"n":56,"t":1985,"r":50},{"n":56,"t":1990,"r":70},{"n":56,"t":1995,"r":88},{"n":56,"t":2000,"r":74},{"n":56,"t":2005,"r":52},{"n":56,"t":2010,"r":32},{"n":56,"t":2015,"r":18},{"n":56,"t":2020,"r":26},
{"n":57,"t":1920,"r":84},{"n":57,"t":1925,"r":98},{"n":57,"t":1930,"r":80},{"n":57,"t":1935,"r":58},{"n":57,"t":1940,"r":38},{"n":57,"t":1945,"r":54},{"n":57,"t":1950,"r":76},{"n":57,"t":1955,"r":92},{"n":57,"t":1960,"r":82},{"n":57,"t":1965,"r":62},{"n":57,"t":1970,"r":44},{"n":57,"t":1975,"r":60},{"n":57,"t":1980,"r":80},{"n":57,"t":1985,"r":96},{"n":57,"t":1990,"r":84},{"n":57,"t":1995,"r":64},{"n":57,"t":2000,"r":46},{"n":57,"t":2005,"r":30},{"n":57,"t":2010,"r":48},{"n":57,"t":2015,"r":70},{"n":57,"t":2020,"r":90},
{"n":58,"t":1920,"r":94},{"n":58,"t":1925,"r":80},{"n":58,"t":1930,"r":64},{"n":58,"t":1935,"r":86},{"n":58,"t":1940,"r":96},{"n":58,"t":1945,"r":76},{"n":58,"t":1950,"r":56},{"n":58,"t":1955,"r":40},{"n":58,"t":1960,"r":58},{"n":58,"t":1965,"r":78},{"n":58,"t":1970,"r":94},{"n":58,"t":1975,"r":86},{"n":58,"t":1980,"r":66},{"n":58,"t":1985,"r":48},{"n":58,"t":1990,"r":70},{"n":58,"t":1995,"r":90},{"n":58,"t":2000,"r":80},{"n":58,"t":2005,"r":60},{"n":58,"t":2010,"r":42},{"n":58,"t":2015,"r":58},{"n":58,"t":2020,"r":76},
{"n":59,"t":1920,"r":16},{"n":59,"t":1925,"r":36},{"n":59,"t":1930,"r":60},{"n":59,"t":1935,"r":82},{"n":59,"t":1940,"r":66},{"n":59,"t":1945,"r":44},{"n":59,"t":1950,"r":24},{"n":59,"t":1955,"r":10},{"n":59,"t":1960,"r":22},{"n":59,"t":1965,"r":44},{"n":59,"t":1970,"r":66},{"n":59,"t":1975,"r":50},{"n":59,"t":1980,"r":30},{"n":59,"t":1985,"r":14},{"n":59,"t":1990,"r":24},{"n":59,"t":1995,"r":46},{"n":59,"t":2000,"r":68},{"n":59,"t":2005,"r":88},{"n":59,"t":2010,"r":70},{"n":59,"t":2015,"r":48},{"n":59,"t":2020,"r":28},
{"n":60,"t":1920,"r":26},{"n":60,"t":1925,"r":14},{"n":60,"t":1930,"r":34},{"n":60,"t":1935,"r":58},{"n":60,"t":1940,"r":80},{"n":60,"t":1945,"r":62},{"n":60,"t":1950,"r":40},{"n":60,"t":1955,"r":22},{"n":60,"t":1960,"r":12},{"n":60,"t":1965,"r":26},{"n":60,"t":1970,"r":48},{"n":60,"t":1975,"r":72},{"n":60,"t":1980,"r":92},{"n":60,"t":1985,"r":76},{"n":60,"t":1990,"r":54},{"n":60,"t":1995,"r":34},{"n":60,"t":2000,"r":18},{"n":60,"t":2005,"r":30},{"n":60,"t":2010,"r":52},{"n":60,"t":2015,"r":74},{"n":60,"t":2020,"r":92},
{"n":61,"t":1920,"r":36},{"n":61,"t":1925,"r":60},{"n":61,"t":1930,"r":42},{"n":61,"t":1935,"r":24},{"n":61,"t":1940,"r":40},{"n":61,"t":1945,"r":62},{"n":61,"t":1950,"r":82},{"n":61,"t":1955,"r":98},{"n":61,"t":1960,"r":86},{"n":61,"t":1965,"r":66},{"n":61,"t":1970,"r":46},{"n":61,"t":1975,"r":30},{"n":61,"t":1980,"r":46},{"n":61,"t":1985,"r":66},{"n":61,"t":1990,"r":84},{"n":61,"t":1995,"r":68},{"n":61,"t":2000,"r":48},{"n":61,"t":2005,"r":28},{"n":61,"t":2010,"r":16},{"n":61,"t":2015,"r":34},{"n":61,"t":2020,"r":52},
{"n":62,"t":1920,"r":86},{"n":62,"t":1925,"r":70},{"n":62,"t":1930,"r":50},{"n":62,"t":1935,"r":32},{"n":62,"t":1940,"r":18},{"n":62,"t":1945,"r":32},{"n":62,"t":1950,"r":52},{"n":62,"t":1955,"r":74},{"n":62,"t":1960,"r":94},{"n":62,"t":1965,"r":84},{"n":62,"t":1970,"r":64},{"n":62,"t":1975,"r":82},{"n":62,"t":1980,"r":96},{"n":62,"t":1985,"r":80},{"n":62,"t":1990,"r":58},{"n":62,"t":1995,"r":40},{"n":62,"t":2000,"r":56},{"n":62,"t":2005,"r":76},{"n":62,"t":2010,"r":90},{"n":62,"t":2015,"r":72},{"n":62,"t":2020,"r":50}
]
},
"bounds":"flush",
"spacing":0,
"vconcat":[
{"width":1945,"height":2,"view":{"fill":"#6a96cf","stroke":null},"data":{"values":[]},"mark":{"type":"point","opacity":0},"encoding":{}},
{"width":1,"height":15,"data":{"values":[]},"mark":{"type":"point","opacity":0},"encoding":{}},
{
"width":527,"height":50,
"data":{"name":"names"},
"encoding":{"x":{"field":"name","type":"nominal","sort":null,"scale":{"type":"point","padding":0.52},"axis":null}},
"layer":[
{"mark":{"type":"tick","thickness":112,"size":50,"cornerRadius":3,"opacity":1},
"encoding":{"color":{"field":"name","type":"nominal","scale":{"domain":["Marija","Sofija","Renāte","Ilga"],"range":["#129031","#2179c6","#f57e00","#4b4f9e"]},"legend":null}}},
{"mark":{"type":"text","fill":"white","fontSize":22,"fontWeight":500,"font":"Roboto Condensed, Liberation Sans Narrow, Roboto"},
"encoding":{"text":{"field":"label","type":"nominal"}}}
]
},
{"width":1,"height":27,"data":{"values":[]},"mark":{"type":"point","opacity":0},"encoding":{}},
{"width":1955,"height":1,"view":{"fill":"#e4e4e4","stroke":null},"data":{"values":[]},"mark":{"type":"point","opacity":0},"encoding":{}},
{"width":1,"height":19,"data":{"values":[]},"mark":{"type":"point","opacity":0},"encoding":{}},
{"width":1955,"height":1,"view":{"fill":"#ececec","stroke":null},"data":{"values":[]},"mark":{"type":"point","opacity":0},"encoding":{}},
{"width":1,"height":18,"data":{"values":[]},"mark":{"type":"point","opacity":0},"encoding":{}},
{
"concat":[
{
"width":62,"height":590,
"data":{"name":"ylab"},
"encoding":{"y":{"field":"label","type":"ordinal","scale":{"type":"band","domain":["1","10","20","30","40","50","60","70","80","90","100"],"paddingInner":0,"paddingOuter":0},"axis":null}},
"layer":[
{"transform":[{"filter":"indexof(['10','30','50','70','90'], datum.label) >= 0"}],"mark":{"type":"rect","color":"#e8e8e8"}},
{"mark":{"type":"text","fontSize":20,"fill":"#666666"},"encoding":{"text":{"field":"label","type":"nominal"}}}
]
},
{
"width":1743,"height":590,
"layer":[
{"data":{"name":"gray"},"mark":{"type":"line","interpolate":"monotone","stroke":"#e1e1e1","strokeWidth":2},
"encoding":{"x":{"field":"t","type":"quantitative","scale":{"domain":[1920,2020],"nice":false,"zero":false},"axis":null},
"y":{"field":"r","type":"quantitative","scale":{"domain":[-3.98,104.79],"reverse":true,"nice":false,"zero":false},"axis":null},
"detail":{"field":"n","type":"nominal"}}},
{"data":{"name":"years"},"transform":[{"filter":"datum.year == 2020"}],"mark":{"type":"rule","stroke":"#8e9db1","strokeWidth":2},
"encoding":{"x":{"field":"year","type":"quantitative"}}},
{"data":{"name":"ranks"},"mark":{"type":"line","interpolate":"monotone","strokeWidth":8,"invalid":"break-paths-show-domains"},
"encoding":{"x":{"field":"year","type":"quantitative"},"y":{"field":"rank","type":"quantitative"},
"color":{"field":"name","type":"nominal","sort":null,"scale":{"domain":["Marija","Sofija","Renāte","Ilga"],"range":["#12902f","#2379c4","#f57f00","#4b4f9e"]},"legend":null}}},
{"data":{"name":"ranks"},"mark":{"type":"point","filled":true,"fill":"white","size":170,"strokeWidth":3.5,"opacity":1},
"encoding":{"x":{"field":"year","type":"quantitative"},"y":{"field":"rank","type":"quantitative"},
"stroke":{"field":"name","type":"nominal","scale":{"domain":["Marija","Sofija","Renāte","Ilga"],"range":["#12902f","#2379c4","#f57f00","#4b4f9e"]},"legend":null}}}
]
},
{
"width":62,"height":590,
"data":{"name":"ylab"},
"encoding":{"y":{"field":"label","type":"ordinal","scale":{"type":"band","domain":["1","10","20","30","40","50","60","70","80","90","100"],"paddingInner":0,"paddingOuter":0},"axis":null}},
"layer":[
{"transform":[{"filter":"indexof(['10','30','50','70','90'], datum.label) >= 0"}],"mark":{"type":"rect","color":"#e8e8e8"}},
{"mark":{"type":"text","fontSize":20,"fill":"#666666"},"encoding":{"text":{"field":"label","type":"nominal"}}}
]
},
{"width":62,"height":54,"data":{"values":[]},"mark":{"type":"point","opacity":0},"encoding":{}},
{
"width":1743,"height":54,
"data":{"name":"years"},
"encoding":{"x":{"field":"year","type":"quantitative","scale":{"domain":[1920,2020],"nice":false,"zero":false},"axis":null}},
"layer":[
{"transform":[{"filter":"datum.year % 10 == 5"}],"mark":{"type":"tick","thickness":73,"size":54,"color":"#e8e8e8","opacity":1}},
{"transform":[{"filter":"datum.year == 2020"}],"mark":{"type":"tick","thickness":85,"size":54,"color":"#2f74c1","opacity":1,"xOffset":-8}},
{"transform":[{"filter":"datum.year > 1920 && datum.year < 2020"}],"mark":{"type":"text","fontSize":20,"fill":"#666666","font":"Roboto Condensed, Liberation Sans Narrow, Roboto"},"encoding":{"text":{"field":"year","type":"nominal"}}},
{"transform":[{"filter":"datum.year == 1920"}],"mark":{"type":"text","fontSize":20,"fill":"#666666","dx":8,"font":"Roboto Condensed, Liberation Sans Narrow, Roboto"},"encoding":{"text":{"field":"year","type":"nominal"}}},
{"transform":[{"filter":"datum.year == 2020"}],"mark":{"type":"text","fontSize":20,"fill":"white","dx":-8,"fontWeight":500,"font":"Roboto Condensed, Liberation Sans Narrow, Roboto"},"encoding":{"text":{"field":"year","type":"nominal"}}}
]
}
],
"columns":3,
"align":"each",
"spacing":{"row":0,"column":40},
"bounds":"flush",
"resolve":{"scale":{"x":"independent","y":"independent"}}
}
]
}
